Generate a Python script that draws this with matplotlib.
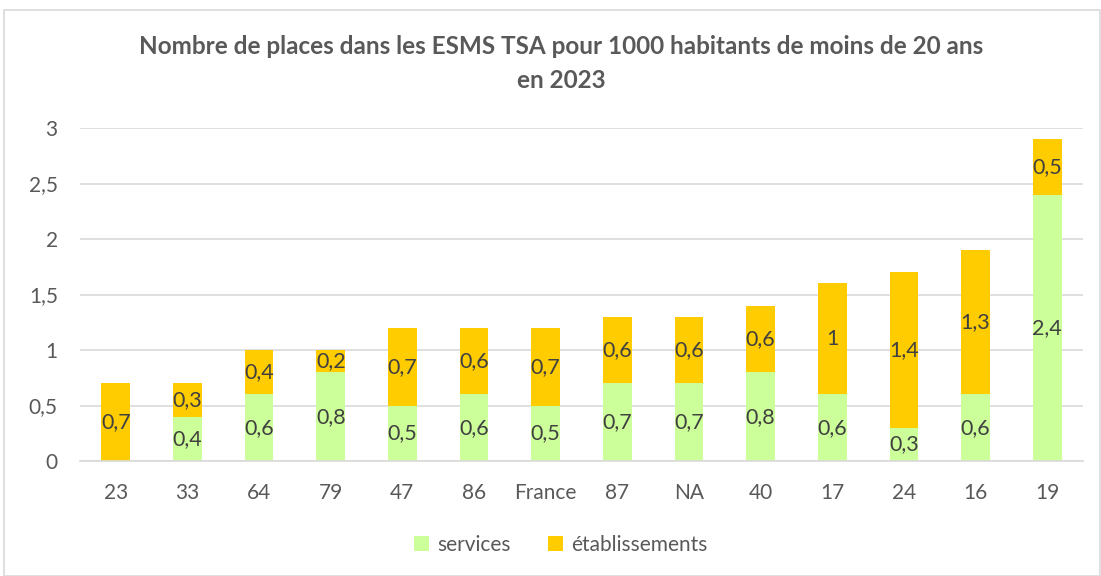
import matplotlib
matplotlib.use("Agg")
import matplotlib.pyplot as plt
from matplotlib.patches import Rectangle

categories = ["23", "33", "64", "79", "47", "86", "France", "87", "NA", "40", "17", "24", "16", "19"]
services = [0, 0.4, 0.6, 0.8, 0.5, 0.6, 0.5, 0.7, 0.7, 0.8, 0.6, 0.3, 0.6, 2.4]
etablissements = [0.7, 0.3, 0.4, 0.2, 0.7, 0.6, 0.7, 0.6, 0.6, 0.6, 1, 1.4, 1.3, 0.5]
yticks = [0, 0.5, 1, 1.5, 2, 2.5, 3]
ytick_labels = ["0", "0,5", "1", "1,5", "2", "2,5", "3"]

plt.rcParams['font.family'] = ['Lato', 'DejaVu Sans']

fig = plt.figure(figsize=(11.01, 5.76), dpi=100)
ax = fig.add_axes([80/1101, 1-461/576, (1083-80)/1101, (461-128)/576])

x = list(range(len(categories)))
green = "#CCFF99"
gold = "#FFCC00"
w = 0.4
ax.bar(x, services, width=w, color=green, label="services", zorder=2)
ax.bar(x, etablissements, width=w, bottom=services, color=gold, label="établissements", zorder=2)

def fmt(v):
    s = ("%g" % v).replace(".", ",")
    return s

for i in x:
    if services[i] > 0:
        ax.text(i, services[i]/2, fmt(services[i]), ha="center", va="center", fontsize=15.5, color="#404040", zorder=3)
    if etablissements[i] > 0:
        ax.text(i, services[i] + etablissements[i]/2, fmt(etablissements[i]), ha="center", va="center", fontsize=15.5, color="#404040", zorder=3)

ax.set_xlim(-0.5, len(categories)-0.5)
ax.set_ylim(0, 3)
ax.set_yticks(yticks)
ax.set_yticklabels(ytick_labels)
ax.set_xticks(x)
ax.set_xticklabels(categories)
ax.tick_params(axis="both", length=0, labelsize=15, colors="#595959")
ax.tick_params(axis="x", pad=16)
ax.tick_params(axis="y", pad=16)
ax.yaxis.grid(True, color="#D9D9D9", linewidth=1.2, zorder=0)
ax.set_axisbelow(True)
for s in ["top", "right", "left"]:
    ax.spines[s].set_visible(False)
ax.spines["bottom"].set_color("#D9D9D9")
ax.spines["bottom"].set_linewidth(1.2)

fig.text(561/1101, 1-47/576, "Nombre de places dans les ESMS TSA pour 1000 habitants de moins de 20 ans",
         ha="center", va="center", fontsize=17.5, fontweight="bold", color="#595959")
fig.text(561/1101, 1-80/576, "en 2023", ha="center", va="center", fontsize=17.5, fontweight="bold", color="#595959")

leg = fig.legend(loc="center", bbox_to_anchor=(561/1101, 1-545/576), ncol=2, frameon=False,
                 fontsize=15, handlelength=0.7, handleheight=0.7, handletextpad=0.4, columnspacing=1.8)
for t in leg.get_texts():
    t.set_color("#595959")

fig.patches.append(Rectangle((4/1101, 0), 1-5/1101, 1-10/576, transform=fig.transFigure,
                             fill=False, edgecolor="#D9D9D9", linewidth=1.2))

fig.savefig("out.png", dpi=100)
